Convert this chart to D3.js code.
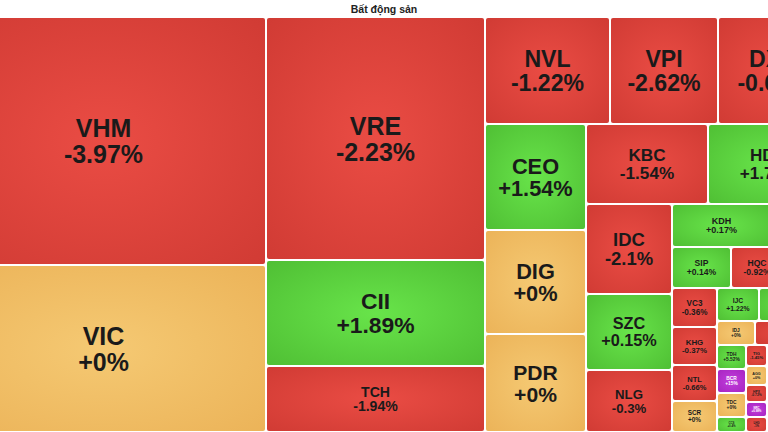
<!DOCTYPE html>
<html>
<head>
<meta charset="utf-8">
<script src="https://cdn.jsdelivr.net/npm/d3@7"></script>
<style>
  html, body { margin: 0; padding: 0; background: #fff; overflow: hidden; }
  svg { display: block; }
</style>
</head>
<body>
<svg id="chart" width="768" height="432"></svg>
<script>
// ---- data ----
const title = "Bất động sản";

const tickers = ["VHM","VIC","VRE","CII","TCH","NVL","VPI","DXG","CEO","DIG","PDR",
  "KBC","HDG","IDC","SZC","NLG","KDH","DXS","SIP","HQC","CRE",
  "VC3","KHG","NTL","SCR","IJC","NBB","IDJ","HDC",
  "TDH","BCR","TDC","CCS","TIG","AGG","HPX","NRC","LHG","ITC","LDG"];

const changes = [-3.97, 0, -2.23, 1.89, -1.94, -1.22, -2.62, -0.65, 1.54, 0, 0,
  -1.54, 1.75, -2.1, 0.15, -0.3, 0.17, -0.5, 0.14, -0.92, 0.3,
  -0.36, -0.37, -0.66, 0, 1.22, 1.1, 0, -0.8,
  5.52, 15, 0, 0.4, -1.45, 0, -0.72, 6.98, -1.0, -0.4, 0.5];

// relative sizes (market weight) of each tile
const weights = [80600, 54275, 53217, 23214, 14454, 13375, 11556, 11984, 10706, 10504, 9898,
  9760, 9760, 7740, 6536, 5332, 4257, 2537, 2419, 2132, 1927,
  1755, 1710, 1620, 1395, 1386, 2343, 912, 1800,
  696, 696, 696, 435, 441, 399, 357, 315, 315, 2772, 2709];

// stocks hitting the ceiling price (shown in purple)
const ceilingTickers = ["BCR", "NRC"];

// nesting of the tiles (row / column groups)
const groups = [
  ["VHM","VIC"],
  ["VRE","CII","TCH"],
  [
    ["NVL","VPI","DXG"],
    [
      ["CEO","DIG","PDR"],
      [
        ["KBC","HDG"],
        [
          ["IDC","SZC","NLG"],
          [
            ["KDH","DXS"],
            ["SIP","HQC","CRE"],
            [
              ["VC3","KHG","NTL","SCR"],
              [
                ["IJC","NBB"],
                ["IDJ","HDC"],
                [
                  ["TDH","BCR","TDC","CCS"],
                  ["TIG","AGG","HPX","NRC","LHG"],
                  ["ITC","LDG"]
                ]
              ]
            ]
          ]
        ]
      ]
    ]
  ]
];

// ---- build ----
const W = 768, H = 432;
const svg = d3.select("#chart");

const idx = new Map(tickers.map((t, i) => [t, i]));
function toNode(g) {
  if (typeof g === "string") {
    const i = idx.get(g);
    return { name: g, change: changes[i], value: weights[i], ceiling: ceilingTickers.includes(g) };
  }
  return { children: g.map(toNode) };
}
const root = d3.hierarchy(toNode(groups)).sum(d => d.value || 0);

const tile = (node, x0, y0, x1, y1) =>
  (x1 - x0 > y1 - y0 ? d3.treemapDice : d3.treemapSlice)(node, x0, y0, x1, y1);

// the map is larger than the view and is cropped at the left and right
const mapLeft = -58, mapTop = 18;
d3.treemap()
  .tile(tile)
  .size([887, 413])
  .paddingInner(2)
  .round(false)(root);

// gradients
const defs = svg.append("defs");
const palette = {
  red:    ["#ea4c44", "#cf3a33"],
  green:  ["#68e44a", "#4ebd33"],
  yellow: ["#f5c973", "#ebb257"],
  purple: ["#c23cdc", "#a524bf"]
};
Object.entries(palette).forEach(([k, [c0, c1]]) => {
  const g = defs.append("radialGradient").attr("id", "g-" + k)
    .attr("cx", "50%").attr("cy", "50%").attr("r", "75%");
  g.append("stop").attr("offset", "0%").attr("stop-color", c0);
  g.append("stop").attr("offset", "100%").attr("stop-color", c1);
});
const colorKey = d => d.ceiling ? "purple" : d.change > 0 ? "green" : d.change < 0 ? "red" : "yellow";

svg.append("rect").attr("width", W).attr("height", H).attr("fill", "#fff");

const plot = svg.append("g").attr("transform", `translate(${mapLeft},${mapTop})`);

const leaves = plot.selectAll("g.leaf").data(root.leaves()).join("g").attr("class", "leaf");

leaves.append("rect")
  .attr("x", d => d.x0).attr("y", d => d.y0)
  .attr("width", d => Math.max(0, d.x1 - d.x0))
  .attr("height", d => Math.max(0, d.y1 - d.y0))
  .attr("rx", 2).attr("ry", 2)
  .attr("fill", d => `url(#g-${colorKey(d.data)})`);

const fmt = v => (v >= 0 ? "+" : "") + v + "%";

leaves.each(function(d) {
  const w = d.x1 - d.x0, h = d.y1 - d.y0;
  const fs = Math.min(25, 0.22 * Math.min(w, h));
  const cx = (d.x0 + d.x1) / 2, cy = (d.y0 + d.y1) / 2;
  const g = d3.select(this).append("text")
    .attr("text-anchor", "middle")
    .attr("font-family", "Liberation Sans, Arial, sans-serif")
    .attr("font-weight", "bold")
    .attr("font-size", fs)
    .attr("fill", d.data.ceiling ? "#fff" : "#1a1a1a");
  g.append("tspan").attr("x", cx).attr("y", cy - 0.16 * fs).text(d.data.name);
  g.append("tspan").attr("x", cx).attr("y", cy + 0.88 * fs).text(fmt(d.data.change));
});

svg.append("text")
  .attr("x", W / 2).attr("y", 13)
  .attr("text-anchor", "middle")
  .attr("font-family", "Liberation Sans, Arial, sans-serif")
  .attr("font-weight", "bold")
  .attr("font-size", 10.5)
  .attr("fill", "#222")
  .text(title);
</script>
</body>
</html>
